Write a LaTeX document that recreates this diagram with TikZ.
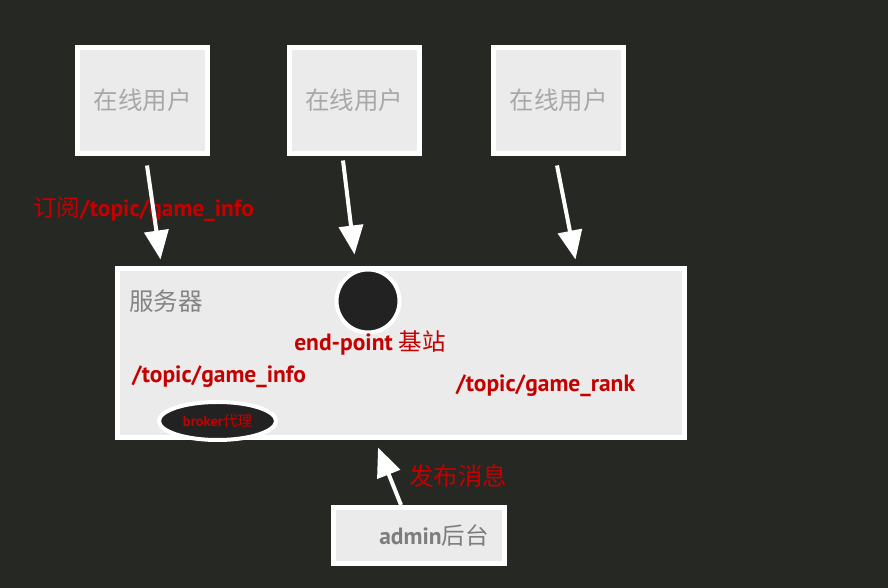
\documentclass[tikz,border=0pt]{standalone}
\usepackage{fontspec}
\setmainfont{PT Sans}
\newfontfamily\cjk{Noto Sans CJK SC}
\usetikzlibrary{arrows.meta,shapes.geometric}

\definecolor{bgdark}{RGB}{38,40,35}
\definecolor{panel}{RGB}{235,235,235}
\definecolor{hotred}{RGB}{196,0,0}
\definecolor{usergray}{RGB}{168,168,168}
\definecolor{srvgray}{RGB}{132,132,132}
\definecolor{admgray}{RGB}{125,125,125}
\definecolor{holefill}{RGB}{34,34,34}

\begin{document}
\begin{tikzpicture}[x=1pt,y=1pt,>={Triangle[width=24pt,length=29pt]}]
    \tikzset{
        box/.style={
            draw=white,line width=5pt,fill=panel,
            inner sep=0pt
        },
        userbox/.style={box,minimum width=130pt,minimum height=106pt,
            text=usergray,font=\cjk\fontsize{24.5}{28}\selectfont},
        serverbox/.style={box,minimum width=567pt,minimum height=169pt},
        adminbox/.style={box,minimum width=171pt,minimum height=56pt,
            text=admgray,font=\bfseries\fontsize{23.5}{27}\selectfont},
        station/.style={circle,draw=white,line width=4pt,fill=holefill,
            minimum size=63pt,inner sep=0pt},
        broker/.style={ellipse,draw=white,line width=4pt,fill=holefill,
            minimum width=117pt,minimum height=38pt,inner sep=0pt,
            text=hotred,font=\bfseries\fontsize{14.5}{16}\selectfont},
        redlabel/.style={text=hotred,inner sep=0pt,
            font=\bfseries\fontsize{23.5}{27}\selectfont},
        flow/.style={->,white,line width=4pt}
    }

    % background
    \fill[bgdark] (0,0) rectangle (888,588);
    \useasboundingbox (0,0) rectangle (888,588);

    % clients
    \node[userbox] (u1) at (142.5,487.5) {在线用户};
    \node[userbox] (u2) at (354,487.5) {在线用户};
    \node[userbox] (u3) at (558.5,487.5) {在线用户};

    % server
    \node[serverbox] (srv) at (401,235) {};
    \node[anchor=west,text=srvgray,inner sep=0pt,
        font=\cjk\fontsize{24.5}{28}\selectfont] (srv-name) at (129,287) {服务器};
    \node[station] (ep) at (368,287) {};
    \node[redlabel] (ep-name) at (370,245)
        {end-point {\cjk\mdseries 基站}};
    \node[redlabel,anchor=west] (t-info) at (132,211) {/topic/game\_info};
    \node[redlabel,anchor=west] (t-rank) at (456,202) {/topic/game\_rank};
    \node[broker] (bk) at (217.5,167) {broker{\cjk\mdseries 代理}};

    % admin
    \node[adminbox] (adm) at (419,52.5) {\hspace*{30pt}admin{\cjk\mdseries 后台}};

    \node[redlabel,anchor=west] (sub) at (33,379)
        {{\cjk\mdseries 订阅}/topic/game\_info};
    \node[redlabel,anchor=west,font=\cjk\fontsize{24.5}{28}\selectfont]
        (pub) at (409,112) {发布消息};

    \foreach \a/\da/\b/\db in {
        u1.south/{4.5,-9.5}/srv.north west/{45.5,6.5},
        u2.south/{-11,-4.5}/srv.north west/{239.5,11.5},
        u3.south/{-1.5,-9.5}/srv.north east/{-111.5,6.5},
        adm.north/{-18,0}/srv.south/{-23,-7.5}}{
        \draw[flow] ([shift={(\da)}]\a) -- ([shift={(\db)}]\b);
    }
\end{tikzpicture}
\end{document}
